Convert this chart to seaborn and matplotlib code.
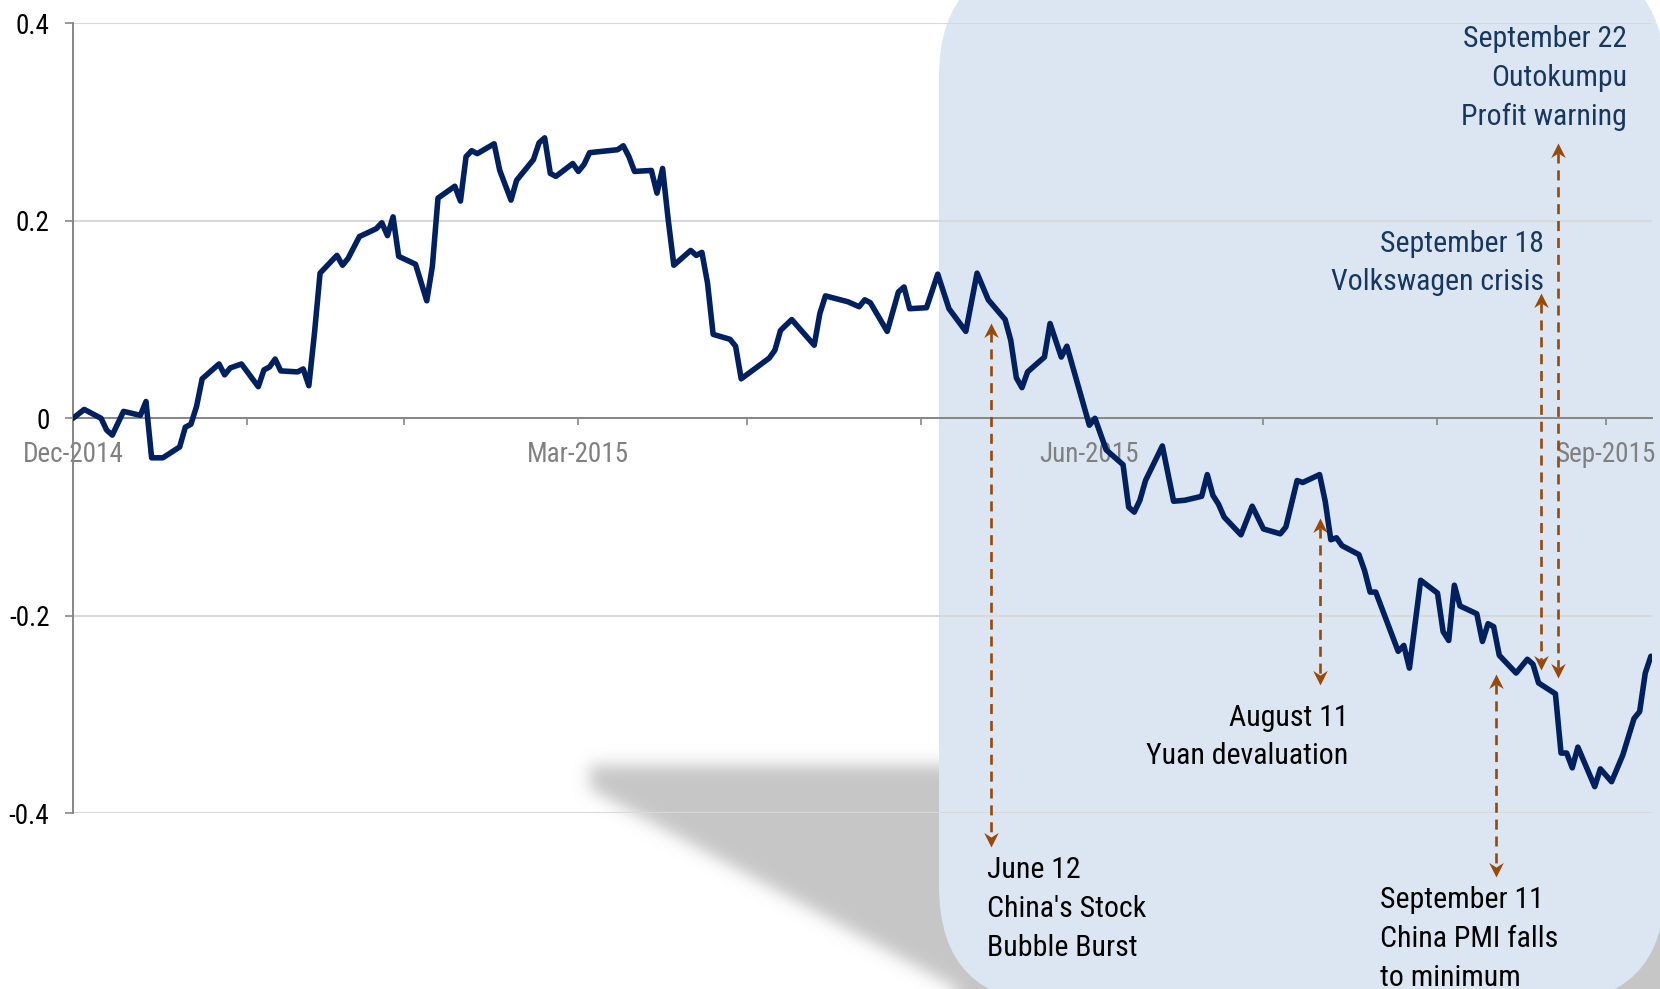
import numpy as np
import pandas as pd
import matplotlib
matplotlib.use("Agg")
import matplotlib.pyplot as plt
import matplotlib.dates as mdates
from matplotlib.patches import FancyBboxPatch
from matplotlib.path import Path
from matplotlib import font_manager
import seaborn as sns

# ---------------- data ----------------
start_date = "2015-01-01"
day_offset = [0, 2, 5, 6, 7, 9, 12, 13, 14, 16,
              19, 20, 21, 22, 23, 26, 27, 28, 30, 33,
              34, 35, 36, 37, 40, 41, 42, 43, 44, 47,
              48, 49, 51, 54, 55, 56, 57, 58, 61, 63,
              64, 65, 68, 69, 70, 71, 72, 75, 76, 77,
              78, 79, 82, 83, 84, 85, 86, 89, 90, 91,
              92, 97, 98, 99, 100, 103, 104, 105, 106, 107,
              110, 111, 112, 113, 114, 117, 118, 119, 124, 125,
              126, 128, 132, 133, 134, 138, 140, 141, 142, 145,
              147, 148, 149, 152, 154, 156, 159, 161, 163, 166,
              167, 168, 169, 170, 173, 174, 176, 177, 181, 182,
              184, 187, 188, 189, 190, 191, 194, 196, 198, 201,
              202, 203, 204, 205, 208, 210, 212, 215, 216, 218,
              219, 222, 223, 224, 225, 226, 229, 230, 231, 232,
              233, 236, 237, 238, 240, 243, 244, 245, 246, 247,
              250, 251, 252, 253, 254, 257, 259, 260, 261, 264,
              265, 266, 267, 268, 271, 272, 274, 276, 278, 279,
              280, 281]
values = [0.000, 0.009, 0.000, -0.012, -0.017, 0.007, 0.003, 0.017, -0.040, -0.040,
          -0.029, -0.009, -0.006, 0.012, 0.040, 0.055, 0.044, 0.051, 0.055, 0.032,
          0.049, 0.052, 0.060, 0.048, 0.047, 0.050, 0.033, 0.086, 0.147, 0.165,
          0.155, 0.162, 0.184, 0.192, 0.198, 0.185, 0.204, 0.164, 0.156, 0.119,
          0.154, 0.223, 0.235, 0.220, 0.265, 0.271, 0.268, 0.278, 0.251, 0.236,
          0.221, 0.241, 0.262, 0.279, 0.284, 0.248, 0.245, 0.258, 0.250, 0.257,
          0.269, 0.272, 0.276, 0.265, 0.250, 0.251, 0.228, 0.253, 0.201, 0.155,
          0.170, 0.165, 0.168, 0.137, 0.085, 0.080, 0.073, 0.040, 0.061, 0.069,
          0.089, 0.100, 0.074, 0.106, 0.124, 0.118, 0.113, 0.120, 0.117, 0.088,
          0.128, 0.133, 0.111, 0.112, 0.146, 0.111, 0.088, 0.147, 0.120, 0.100,
          0.079, 0.041, 0.031, 0.047, 0.062, 0.096, 0.062, 0.073, -0.007, 0.000,
          -0.032, -0.047, -0.090, -0.095, -0.083, -0.063, -0.028, -0.084, -0.083, -0.079,
          -0.057, -0.078, -0.087, -0.100, -0.118, -0.089, -0.112, -0.117, -0.110, -0.063,
          -0.065, -0.057, -0.084, -0.123, -0.121, -0.129, -0.138, -0.154, -0.176, -0.176,
          -0.191, -0.236, -0.230, -0.253, -0.164, -0.177, -0.216, -0.225, -0.169, -0.190,
          -0.198, -0.226, -0.208, -0.211, -0.240, -0.258, -0.244, -0.249, -0.268, -0.279,
          -0.339, -0.339, -0.354, -0.333, -0.373, -0.355, -0.368, -0.341, -0.304, -0.297,
          -0.258, -0.241]

y_ticks = [-0.4, -0.2, 0, 0.2, 0.4]
y_tick_labels = ["-0.4", "-0.2", "0", "0.2", "0.4"]
x_tick_dates = ["2015-01-01", "2015-04-01", "2015-07-01", "2015-10-01"]
x_tick_labels = ["Dec-2014", "Mar-2015", "Jun-2015", "Sep-2015"]

event_dates = ["2015-06-13 12:00", "2015-08-11", "2015-09-11 12:00",
               "2015-09-19 10:00", "2015-09-22 12:00"]
event_top = [0.097, -0.101, -0.259, 0.127, 0.279]
event_bottom = [-0.434, -0.270, -0.464, -0.255, -0.263]
event_texts = ["June 12\nChina's Stock\nBubble Burst",
               "August 11\nYuan devaluation",
               "September 11\nChina PMI falls\nto minimum",
               "September 18\nVolkswagen crisis",
               "September 22\nOutokumpu\nProfit warning"]

# ---------------- style ----------------
sns.set_theme(style="white")
avail = {f.name for f in font_manager.fontManager.ttflist}
fam = next((f for f in ["Liberation Sans Narrow", "Arial Narrow", "Roboto Condensed",
                        "DejaVu Sans Condensed", "Liberation Sans"] if f in avail), "DejaVu Sans")
plt.rcParams["font.family"] = [fam, "DejaVu Sans"]
plt.rcParams["axes.unicode_minus"] = False

W, H = 1660, 989
fig = plt.figure(figsize=(W / 100, H / 100), dpi=100)
fig.patch.set_facecolor("white")

# ---------------- background decoration (shadow + rounded panel) ----------------
bg = fig.add_axes([0, 0, 1, 1], zorder=0)
bg.set_xlim(0, W)
bg.set_ylim(H, 0)
bg.axis("off")

yy, xx = np.mgrid[0:H, 0:W] + 0.5
mask = ((yy >= 765) & (yy <= 790 + (xx - 592) * 0.5437) & (xx >= 590)).astype(float)


def blur1d(a, sigma, axis):
    r = int(3 * sigma)
    k = np.exp(-0.5 * (np.arange(-r, r + 1) / sigma) ** 2)
    k /= k.sum()
    pad = [(0, 0), (0, 0)]
    pad[axis] = (r, r)
    ap = np.pad(a, pad, mode="edge")
    out = np.zeros_like(a)
    n = a.shape[axis]
    for i, w in enumerate(k):
        if axis == 0:
            out += w * ap[i:i + n, :]
        else:
            out += w * ap[:, i:i + n]
    return out


mask = blur1d(blur1d(mask, 8, 0), 8, 1)
rgba = np.zeros((H, W, 4))
rgba[..., :3] = 0.78
rgba[..., 3] = mask
bg.imshow(rgba, extent=(0, W, H, 0), interpolation="bilinear", zorder=1)
bg.add_patch(FancyBboxPatch((939, -40), 726, 1043,
                            boxstyle="round,pad=0,rounding_size=117",
                            fc="#DCE6F2", ec="none", zorder=2))

# ---------------- main chart ----------------
dates = pd.Timestamp(start_date) + pd.to_timedelta(day_offset, unit="D")
df = pd.DataFrame({"date": dates, "value": values})

ax = fig.add_axes([73 / W, 1 - 813.3 / H, (1652 - 73) / W, (813.3 - 23.3) / H], zorder=1)
ax.patch.set_alpha(0)
sns.lineplot(data=df, x="date", y="value", ax=ax, color="#002060",
             linewidth=4.0, zorder=5, sort=False)

ax.set_ylim(-0.4, 0.4)
ax.set_xlim(pd.Timestamp(start_date), pd.Timestamp(start_date) + pd.Timedelta(days=281.2))
ax.set_xlabel("")
ax.set_ylabel("")

ax.set_yticks(y_ticks)
ax.set_yticklabels(y_tick_labels)
ax.set_xticks(pd.to_datetime(x_tick_dates))
ax.set_xticklabels(x_tick_labels)
ax.xaxis.set_minor_locator(mdates.MonthLocator())

ax.set_axisbelow(True)
ax.yaxis.grid(True, color="#D9D9D9", linewidth=1.5)
ax.xaxis.grid(False)

for s in ["top", "right"]:
    ax.spines[s].set_visible(False)
ax.spines["bottom"].set_position(("data", 0))
for s in ["bottom", "left"]:
    ax.spines[s].set_color("#868686")
    ax.spines[s].set_linewidth(1.4)

ax.tick_params(axis="y", left=True, length=6, width=1.2, color="#868686",
               labelsize=19.5, pad=11, labelcolor="black")
ax.tick_params(axis="x", which="both", bottom=True, direction="out", length=5,
               width=1.2, color="#868686", labelsize=19.5, labelcolor="#808080", pad=11)

# ---------------- event arrows ----------------
arrow_c = "#984807"
up_head = Path([(0, 0), (-0.5, -1), (0, -0.68), (0.5, -1), (0, 0)],
               [Path.MOVETO, Path.LINETO, Path.LINETO, Path.LINETO, Path.CLOSEPOLY])
down_head = Path([(0, 0), (-0.5, 1), (0, 0.68), (0.5, 1), (0, 0)],
                 [Path.MOVETO, Path.LINETO, Path.LINETO, Path.LINETO, Path.CLOSEPOLY])
for d, yt, yb in zip(event_dates, event_top, event_bottom):
    xd = pd.Timestamp(d)
    ax.plot([xd, xd], [yt - 0.01, yb + 0.01], color=arrow_c, lw=1.9,
            ls=(0, (3.8, 2.6)), clip_on=False, zorder=3)
    ax.plot([xd], [yt], marker=up_head, ms=21, color=arrow_c, mew=0,
            clip_on=False, zorder=3)
    ax.plot([xd], [yb], marker=down_head, ms=21, color=arrow_c, mew=0,
            clip_on=False, zorder=3)

# ---------------- event texts ----------------
text_pos = [(987, 909, "left", "black"),
            (1348, 737, "right", "black"),
            (1380, 939, "left", "black"),
            (1544, 263, "right", "#17375E"),
            (1627, 78, "right", "#17375E")]
for (px, py, ha, col), t in zip(text_pos, event_texts):
    fig.text(px / W, 1 - py / H, t, ha=ha, va="center", multialignment=ha,
             fontsize=21.5, linespacing=1.49, color=col, zorder=10)

fig.savefig("out.png", dpi=100)
